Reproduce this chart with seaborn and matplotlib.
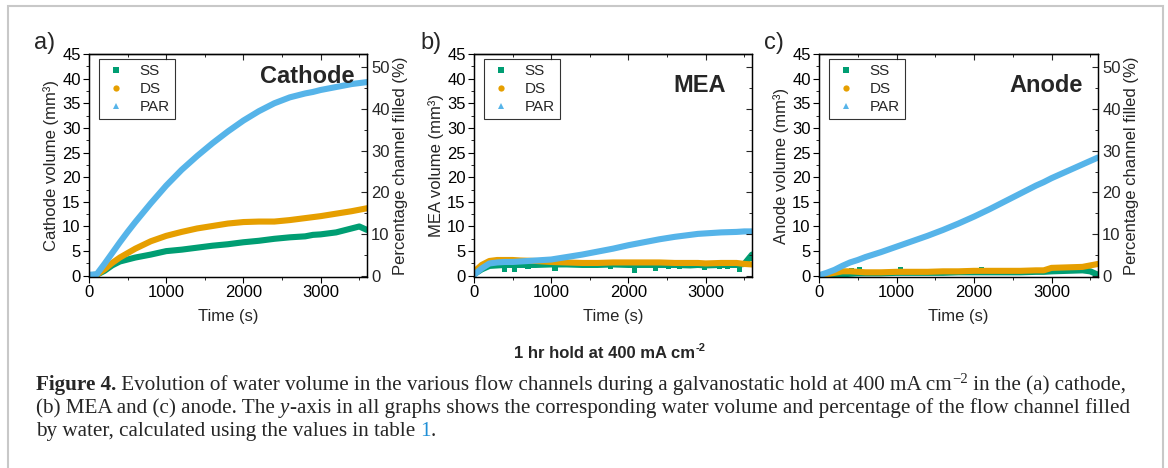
import matplotlib
matplotlib.use("Agg")
import matplotlib.pyplot as plt
from matplotlib.lines import Line2D
from matplotlib.patches import Rectangle
from matplotlib.ticker import MultipleLocator, NullFormatter
import pandas as pd
import seaborn as sns

# values (water volume in mm3)
time_s = [0, 100, 200, 300, 400, 500, 600, 800, 1000, 1200, 1400, 1600, 1800,
          2000, 2200, 2400, 2600, 2800, 2900, 3000, 3200, 3400, 3500, 3600]

cathode_ss = [0.1, 0.2, 1.0, 2.1, 2.9, 3.3, 3.7, 4.3, 5.0, 5.3, 5.7, 6.1, 6.4,
              6.8, 7.1, 7.5, 7.8, 8.0, 8.3, 8.4, 8.8, 9.6, 10.0, 9.3]
cathode_ds = [0.1, 0.2, 1.3, 2.6, 3.7, 4.6, 5.5, 7.0, 8.1, 8.9, 9.6, 10.1, 10.6,
              10.9, 11.0, 11.0, 11.3, 11.7, 11.9, 12.1, 12.6, 13.1, 13.4, 13.7]
cathode_par = [0.2, 0.3, 2.4, 4.6, 6.8, 8.9, 10.9, 14.7, 18.3, 21.5, 24.3, 26.9, 29.3,
               31.5, 33.4, 35.0, 36.2, 37.0, 37.3, 37.7, 38.3, 38.9, 39.1, 39.3]

mea_ss = [0.3, 1.3, 2.0, 2.1, 2.2, 2.2, 2.2, 2.2, 2.3, 2.3, 2.2, 2.2, 2.3,
          2.2, 2.2, 2.2, 2.2, 2.1, 2.2, 2.1, 2.2, 2.2, 2.4, 4.3]
mea_ds = [0.8, 2.2, 3.0, 3.2, 3.2, 3.2, 3.1, 3.0, 2.8, 2.7, 2.6, 2.6, 2.7,
          2.7, 2.7, 2.7, 2.6, 2.6, 2.6, 2.5, 2.6, 2.6, 2.4, 2.3]
mea_par = [0.2, 1.5, 2.5, 2.7, 2.8, 2.8, 2.9, 3.1, 3.3, 3.8, 4.3, 4.9, 5.5,
           6.2, 6.8, 7.4, 7.9, 8.3, 8.5, 8.6, 8.8, 8.9, 9.0, 9.0]

anode_ss = [0.0, 0.1, 0.2, 0.3, 0.4, 0.5, 0.5, 0.5, 0.6, 0.6, 0.6, 0.6, 0.7,
            0.7, 0.7, 0.7, 0.7, 0.8, 0.8, 0.9, 1.0, 1.1, 0.9, 0.2]
anode_ds = [0.0, 0.3, 0.6, 0.9, 0.9, 0.8, 0.7, 0.7, 0.8, 0.8, 0.8, 0.9, 0.9,
            1.0, 1.0, 1.0, 1.0, 1.1, 1.1, 1.6, 1.7, 1.8, 2.1, 2.4]
anode_par = [0.1, 0.6, 1.2, 2.0, 2.7, 3.2, 3.8, 4.8, 5.9, 7.0, 8.1, 9.3, 10.6,
             12.0, 13.5, 15.1, 16.7, 18.3, 19.0, 19.8, 21.2, 22.6, 23.3, 24.0]

# stray SS points that sit off the main band
mea_ss_stray_t = [400, 520, 700, 1050, 1770, 2080, 2350, 2520, 2660, 2980, 3180, 3280, 3440, 3580]
mea_ss_stray_v = [1.2, 1.3, 1.9, 1.5, 1.8, 1.0, 1.5, 1.8, 2.0, 1.6, 2.0, 1.9, 1.3, 3.6]
anode_ss_stray_t = [420, 520, 1050, 2100]
anode_ss_stray_v = [1.1, 1.3, 1.2, 1.2]

series_names = ["SS", "DS", "PAR"]
series_colors = {"SS": "#009E73", "DS": "#E69F00", "PAR": "#56B4E9"}
series_markers = {"SS": "s", "DS": "o", "PAR": "^"}

VOL_MAX = 45
PCT_MAX = 45 * 50 / 42.3  # right axis: 50 % sits at ~42.3 mm3

W, H = 1168, 468

sns.set_theme(style="ticks")
plt.rcParams["font.family"] = ["Liberation Sans", "DejaVu Sans"]
plt.rcParams["axes.linewidth"] = 0.9
plt.rcParams["axes.edgecolor"] = "black"

fig = plt.figure(figsize=(W / 100, H / 100), dpi=100)


def px_rect(left, top, right, bottom):
    return [left / W, 1 - bottom / H, (right - left) / W, (bottom - top) / H]


def draw_panel(rect, vols, stray, letter, letter_x, title, title_xy, ylabel, right_labels):
    ax = fig.add_axes(px_rect(*rect))
    df = pd.DataFrame({"t": time_s, **vols}).melt("t", var_name="series", value_name="vol")
    if stray is not None:
        sns.scatterplot(x=stray[0], y=stray[1], marker="s", s=14, color=series_colors["SS"],
                        edgecolor="none", ax=ax, legend=False)
    sns.lineplot(data=df, x="t", y="vol", hue="series", hue_order=series_names,
                 palette=series_colors, linewidth=4.4, estimator=None, legend=False, ax=ax)

    ax.set_xlim(0, 3600)
    ax.set_ylim(-0.25, VOL_MAX)
    ax.xaxis.set_major_locator(MultipleLocator(1000))
    ax.xaxis.set_minor_locator(MultipleLocator(500))
    ax.yaxis.set_major_locator(MultipleLocator(5))
    ax.yaxis.set_minor_locator(MultipleLocator(2.5))
    ax.tick_params(axis="both", which="major", direction="out", length=4, width=0.8,
                   labelsize=12, pad=2, colors="black")
    ax.tick_params(axis="both", which="minor", direction="out", length=2.5, width=0.7)
    ax.set_xlabel("Time (s)", fontsize=12, labelpad=6)
    ax.set_ylabel(ylabel, fontsize=12, labelpad=2)

    top = ax.secondary_xaxis("top")
    top.xaxis.set_major_locator(MultipleLocator(1000))
    top.xaxis.set_minor_locator(MultipleLocator(500))
    top.xaxis.set_major_formatter(NullFormatter())
    top.tick_params(axis="x", which="major", direction="in", length=4, width=0.8)
    top.tick_params(axis="x", which="minor", direction="in", length=2.5, width=0.7)

    ax2 = ax.twinx()
    ax2.set_ylim(-0.25 * PCT_MAX / VOL_MAX, PCT_MAX)
    ax2.yaxis.set_major_locator(MultipleLocator(10))
    ax2.yaxis.set_minor_locator(MultipleLocator(5))
    ax2.grid(False)
    ax2.tick_params(axis="y", which="major", direction="in", length=4, width=0.8,
                    labelsize=12, pad=3)
    ax2.tick_params(axis="y", which="minor", direction="in", length=2.5, width=0.7)
    if right_labels:
        ax2.set_ylabel("Percentage channel filled (%)", fontsize=12, labelpad=2)
    else:
        ax2.yaxis.set_major_formatter(NullFormatter())

    handles = [Line2D([], [], linestyle="none", marker=series_markers[n], markersize=4.5,
                      color=series_colors[n], markeredgewidth=0) for n in series_names]
    leg = ax.legend(handles, series_names, loc="upper left", bbox_to_anchor=(0.036, 0.978),
                    fontsize=11, frameon=True, fancybox=False, edgecolor="black",
                    borderpad=0.35, labelspacing=0.25, handlelength=1.5, handletextpad=0.8,
                    borderaxespad=0)
    leg.get_frame().set_linewidth(0.8)

    ax.text(title_xy[0], title_xy[1], title, transform=ax.transAxes, ha="right", va="center",
            fontsize=17, fontweight="bold")
    fig.text(letter_x / W, 1 - 43 / H, letter, fontsize=17, ha="left", va="center")
    return ax


draw_panel((89, 54, 367, 277), {"SS": cathode_ss, "DS": cathode_ds, "PAR": cathode_par},
           None, "a)", 34, "Cathode", (0.955, 0.9), "Cathode volume (mm³)", True)
draw_panel((474, 54, 752, 277), {"SS": mea_ss, "DS": mea_ds, "PAR": mea_par},
           (mea_ss_stray_t, mea_ss_stray_v), "b)", 420, "MEA", (0.905, 0.86),
           "MEA volume (mm³)", False)
draw_panel((819, 54, 1098, 277), {"SS": anode_ss, "DS": anode_ds, "PAR": anode_par},
           (anode_ss_stray_t, anode_ss_stray_v), "c)", 764, "Anode", (0.945, 0.86),
           "Anode volume (mm³)", True)

# shared condition label
hold = fig.text(0.0, 1 - 353 / H, "1 hr hold at 400 mA cm", fontsize=12, fontweight="bold",
                ha="left", va="center")
renderer = fig.canvas.get_renderer()
hw = hold.get_window_extent(renderer).width
hold.set_x((610 - (hw + 12) / 2) / W)
fig.text((610 - (hw + 12) / 2 + hw + 1) / W, 1 - 348 / H, "-2", fontsize=8,
         fontweight="bold", ha="left", va="center")

# caption, drawn piece by piece
serif = ["Liberation Serif", "DejaVu Serif"]
cap_size = 15.2


def rich_line(x_px, y_px, pieces):
    x = x_px
    for s, kw in pieces:
        kw = dict(kw)
        dy = kw.pop("dy", 0)
        t = fig.text(x / W, 1 - (y_px - dy) / H, s, ha="left", va="baseline",
                     family=serif, **kw)
        x += t.get_window_extent(renderer).width


plain = {"fontsize": cap_size}
rich_line(36, 390, [
    ("Figure 4.", {"fontsize": cap_size, "fontweight": "bold"}),
    (" Evolution of water volume in the various flow channels during a galvanostatic hold at 400 mA cm", plain),
    ("\u22122", {"fontsize": cap_size * 0.7, "dy": 7}),
    (" in the (a) cathode,", plain),
])
rich_line(36, 413, [
    ("(b) MEA and (c) anode. The ", plain),
    ("y", {"fontsize": cap_size, "fontstyle": "italic"}),
    ("-axis in all graphs shows the corresponding water volume and percentage of the flow channel filled", plain),
])
rich_line(36, 436, [
    ("by water, calculated using the values in table ", plain),
    ("1", {"fontsize": cap_size, "color": "#1f8fd6"}),
    (".", plain),
])

# thin grey page frame
fig.patches.append(Rectangle((8 / W, -0.05), (1163 - 8) / W, 1.05 - 6 / H,
                             transform=fig.transFigure, fill=False, edgecolor="#c8c8c8",
                             linewidth=1.5))

fig.savefig("out.png", dpi=100, facecolor="white")
